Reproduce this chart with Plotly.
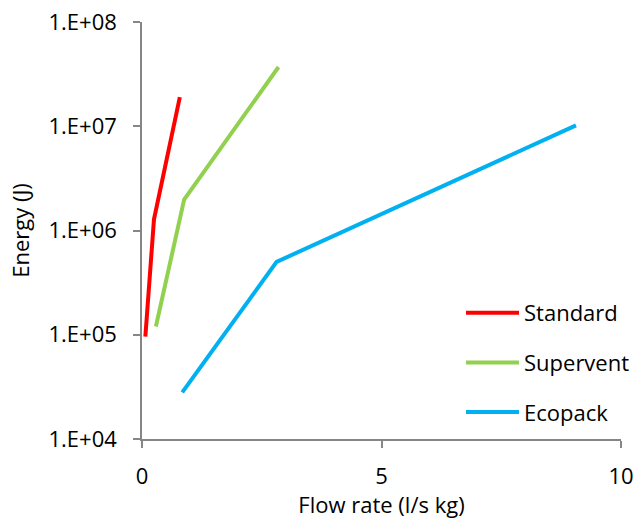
import plotly.graph_objects as go

series_names = ["Standard", "Supervent", "Ecopack"]
standard_x = [0.07, 0.25, 0.79]
standard_y = [9.6e4, 1.28e6, 1.9e7]
supervent_x = [0.29, 0.88, 2.85]
supervent_y = [1.2e5, 1.98e6, 3.7e7]
ecopack_x = [0.84, 2.81, 9.06]
ecopack_y = [2.8e4, 5.0e5, 1.02e7]
colors = ["#FF0000", "#92D050", "#00B0F0"]

y_tickvals = [1e4, 1e5, 1e6, 1e7, 1e8]
y_ticktext = ["1.E+04", "1.E+05", "1.E+06", "1.E+07", "1.E+08"]
x_tickvals = [0, 5, 10]

FONT = "Open Sans, sans-serif"
FS = 22

fig = go.Figure()
for i, (name, xs, ys) in enumerate(zip(series_names,
                                         [standard_x, supervent_x, ecopack_x],
                                         [standard_y, supervent_y, ecopack_y])):
    fig.add_trace(go.Scatter(x=xs, y=ys, mode="lines", name=name,
                             legendgroup=name,
                             line=dict(color=colors[i], width=4)))

axis_color = "#868686"
fig.update_layout(
    width=637, height=519,
    margin=dict(l=142, r=16, t=22, b=80, autoexpand=False),
    paper_bgcolor="white", plot_bgcolor="white",
    font=dict(family=FONT, size=FS, color="black"),
    showlegend=True,
    legend=dict(x=0.666, y=0.3525, xanchor="left", yanchor="top",
                bgcolor="rgba(0,0,0,0)", tracegroupgap=18, itemwidth=53,
                font=dict(size=FS)),
    xaxis=dict(range=[0, 10], tickvals=x_tickvals, showgrid=False, zeroline=False,
               automargin=False,
               showline=True, linecolor=axis_color, linewidth=1.5,
               ticks="outside", ticklen=7, tickcolor=axis_color, tickwidth=1.5,
               ticklabelstandoff=10,
               title=dict(text="Flow rate (l/s kg)", font=dict(size=FS), standoff=0)),
    yaxis=dict(type="log", range=[4, 8], tickvals=y_tickvals, ticktext=y_ticktext,
               showgrid=False, zeroline=False, automargin=False,
               showline=True, linecolor=axis_color, linewidth=1.5,
               ticks="outside", ticklen=7, tickcolor=axis_color, tickwidth=1.5,
               ticklabelstandoff=12,
               title=dict(text="Energy (J)", font=dict(size=FS), standoff=13)),
)

fig.write_html("out.html")
